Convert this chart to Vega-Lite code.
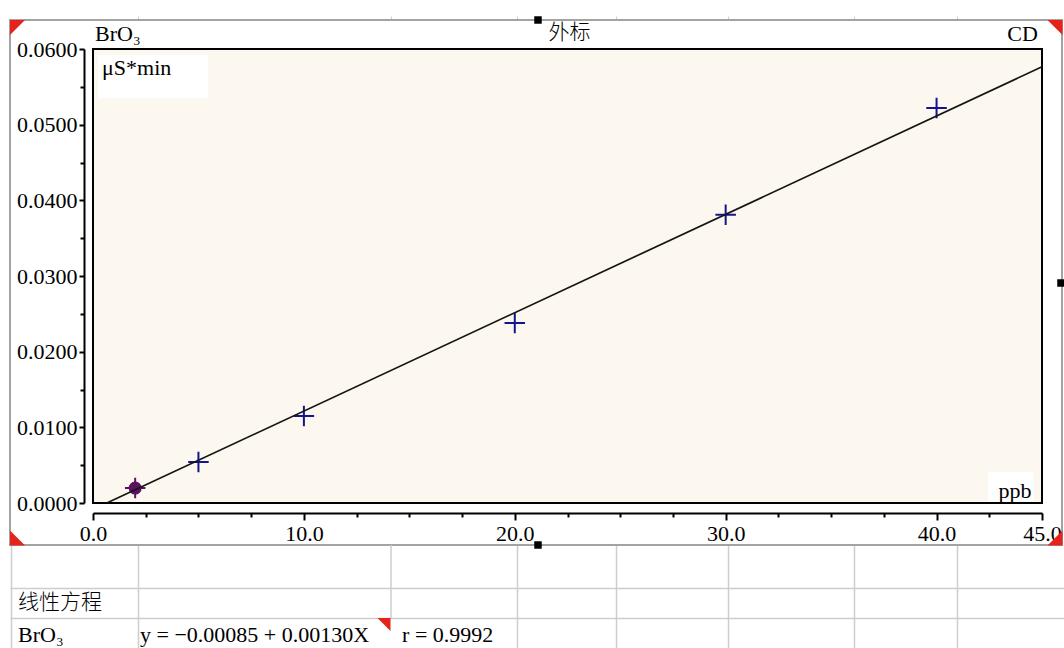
{
  "$schema": "https://vega.github.io/schema/vega-lite/v6.json",
  "width": 1064,
  "height": 648,
  "autosize": {"type": "none"},
  "padding": 0,
  "background": "white",
  "config": {"view": {"stroke": null}},
  "datasets": {
    "standards": [
      {"ppb": 2, "area": 0.00198, "status": "selected"},
      {"ppb": 5, "area": 0.00542, "status": "standard"},
      {"ppb": 10, "area": 0.0115, "status": "standard"},
      {"ppb": 20, "area": 0.0238, "status": "standard"},
      {"ppb": 30, "area": 0.0381, "status": "standard"},
      {"ppb": 40, "area": 0.0522, "status": "standard"}
    ],
    "fit": [
      {"ppb": 0.654, "area": 0},
      {"ppb": 45, "area": 0.05765}
    ],
    "handles": [
      {"sx": 7.5, "sy": 7.5, "kind": "tl"},
      {"sx": 1045, "sy": 7.5, "kind": "tr"},
      {"sx": 7.5, "sy": 518, "kind": "bl"},
      {"sx": 1045, "sy": 518, "kind": "br"},
      {"sx": 528, "sy": 0, "kind": "sq"},
      {"sx": 528, "sy": 525, "kind": "sq"},
      {"sx": 1051, "sy": 263, "kind": "sq"}
    ]
  },
  "resolve": {"scale": {"x": "independent", "y": "independent"}, "axis": {"x": "independent", "y": "independent"}},
  "layer": [
    {
      "layer": [
        {
          "data": {"values": [{}]},
          "mark": {"type": "rect", "fillOpacity": 0, "stroke": "#a3a3a3", "strokeWidth": 2},
          "encoding": {
            "x": {"datum": 0, "type": "quantitative", "scale": {"domain": [0, 1054], "range": [10, 1064], "nice": false, "zero": false}},
            "x2": {"datum": 1052},
            "y": {"datum": 0, "type": "quantitative", "scale": {"domain": [0, 628], "range": [20, 648], "nice": false, "zero": false}, "axis": null},
            "y2": {"datum": 525}
          }
        },
        {
          "data": {"name": "handles"},
          "transform": [{"filter": "datum.kind !== 'sq'"}],
          "mark": {"type": "point", "filled": true, "opacity": 1, "strokeWidth": 0, "size": 225, "color": "#e3231c"},
          "encoding": {
            "x": {"field": "sx", "type": "quantitative",
              "scale": {"domain": [0, 1054], "range": [10, 1064], "nice": false, "zero": false},
              "axis": {"orient": "top", "offset": -20, "title": null, "labels": false, "grid": false, "domain": false,
                "values": [128, 381, 507, 606, 718, 844, 947], "ticks": true, "tickSize": 4, "tickColor": "#cfcfcf", "tickWidth": 1}},
            "y": {"field": "sy", "type": "quantitative",
              "scale": {"domain": [0, 628], "range": [20, 648], "nice": false, "zero": false},
              "axis": null},
            "shape": {"field": "kind", "type": "nominal",
              "scale": {"domain": ["tl", "tr", "bl", "br"],
                "range": ["M-1,-1L1,-1L-1,1Z", "M-1,-1L1,-1L1,1Z", "M-1,-1L-1,1L1,1Z", "M1,-1L1,1L-1,1Z"]},
              "legend": null}
          }
        },
        {
          "data": {"name": "handles"},
          "transform": [{"filter": "datum.kind === 'sq'"}],
          "mark": {"type": "point", "shape": "square", "filled": true, "opacity": 1, "strokeWidth": 0, "size": 56, "color": "#000000"},
          "encoding": {
            "x": {"field": "sx", "type": "quantitative"},
            "y": {"field": "sy", "type": "quantitative", "axis": null}
          }
        }
      ]
    },
    {
      "layer": [
        {
          "data": {"values": [{"c": 0, "r": 0}]},
          "mark": {"type": "text", "text": ""},
          "encoding": {
            "x": {"field": "c", "type": "quantitative",
              "scale": {"domain": [0, 1054], "range": [10, 1064], "nice": false, "zero": false},
              "axis": {"orient": "top", "title": null, "labels": false, "ticks": false, "domain": false, "grid": true,
                "values": [1, 128, 507, 606, 718, 844, 947], "gridColor": "#cdcdcd", "gridWidth": 1.5}},
            "y": {"field": "r", "type": "quantitative",
              "scale": {"domain": [0, 103], "range": [545, 648], "nice": false, "zero": false},
              "axis": {"orient": "left", "title": null, "labels": false, "ticks": false, "domain": false, "grid": true,
                "values": [43, 73], "gridColor": "#cdcdcd", "gridWidth": 1.5}}
          }
        },
        {
          "data": {"values": [{}]},
          "mark": {"type": "rule", "color": "#cdcdcd", "strokeWidth": 1.5},
          "encoding": {
            "x": {"datum": 381, "type": "quantitative"},
            "y": {"datum": 0, "type": "quantitative"}, "y2": {"datum": 73}
          }
        },
        {
          "data": {"values": [{}]},
          "mark": {"type": "point", "shape": "M-1,-1L1,-1L1,1Z", "size": 169, "filled": true, "color": "#e3231c", "opacity": 1, "strokeWidth": 0},
          "encoding": {
            "x": {"datum": 374, "type": "quantitative"},
            "y": {"datum": 79.5, "type": "quantitative"}
          }
        },
        {
          "data": {"values": [{"t": "线性方程"}]},
          "mark": {"type": "text", "align": "left", "baseline": "middle", "font": "Noto Sans CJK SC", "fontWeight": 300, "fontSize": 21, "color": "#000"},
          "encoding": {
            "x": {"datum": 8, "type": "quantitative"},
            "y": {"datum": 58, "type": "quantitative"},
            "text": {"field": "t"}
          }
        },
        {
          "data": {"values": [{"t": "BrO₃"}]},
          "mark": {"type": "text", "align": "left", "baseline": "middle", "font": "Liberation Serif", "fontSize": 22, "color": "#000"},
          "encoding": {
            "x": {"datum": 8, "type": "quantitative"},
            "y": {"datum": 90, "type": "quantitative"},
            "text": {"field": "t"}
          }
        },
        {
          "data": {"values": [{"t": "y = −0.00085 + 0.00130X\u00a0\u00a0\u00a0\u00a0\u00a0\u00a0r = 0.9992"}]},
          "mark": {"type": "text", "align": "left", "baseline": "middle", "font": "Liberation Serif", "fontSize": 22, "color": "#000"},
          "encoding": {
            "x": {"datum": 130, "type": "quantitative"},
            "y": {"datum": 90, "type": "quantitative"},
            "text": {"field": "t"}
          }
        }
      ]
    },
    {
      "layer": [
        {
          "data": {"values": [{}]},
          "mark": {"type": "rect", "fill": "#fdf8ef", "stroke": "#000", "strokeWidth": 2},
          "encoding": {
            "x": {"datum": 0, "type": "quantitative", "scale": {"domain": [0, 45], "range": [93, 1042], "nice": false, "zero": false}},
            "x2": {"datum": 45},
            "y": {"datum": 0, "type": "quantitative", "scale": {"domain": [0, 0.06], "range": [503, 49], "nice": false, "zero": false}},
            "y2": {"datum": 0.06}
          }
        },
        {
          "data": {"values": [{}]},
          "mark": {"type": "rect", "color": "white"},
          "encoding": {
            "x": {"datum": 0.24, "type": "quantitative"}, "x2": {"datum": 5.45},
            "y": {"datum": 0.0592, "type": "quantitative"}, "y2": {"datum": 0.0535}
          }
        },
        {
          "data": {"values": [{}]},
          "mark": {"type": "rect", "color": "white"},
          "encoding": {
            "x": {"datum": 42.45, "type": "quantitative"}, "x2": {"datum": 44.6},
            "y": {"datum": 0.0041, "type": "quantitative"}, "y2": {"datum": 0.0002}
          }
        },
        {
          "data": {"values": [{"t": "μS*min"}]},
          "mark": {"type": "text", "align": "left", "baseline": "middle", "font": "Liberation Serif", "fontSize": 22, "color": "#000"},
          "encoding": {
            "x": {"datum": 0.43, "type": "quantitative"},
            "y": {"datum": 0.0575, "type": "quantitative"},
            "text": {"field": "t"}
          }
        },
        {
          "data": {"values": [{"t": "ppb"}]},
          "mark": {"type": "text", "align": "right", "baseline": "middle", "font": "Liberation Serif", "fontSize": 22, "color": "#000"},
          "encoding": {
            "x": {"datum": 44.5, "type": "quantitative"},
            "y": {"datum": 0.0016, "type": "quantitative"},
            "text": {"field": "t"}
          }
        },
        {
          "data": {"values": [{"t": "BrO₃"}]},
          "mark": {"type": "text", "align": "left", "baseline": "middle", "font": "Liberation Serif", "fontSize": 22, "color": "#000"},
          "encoding": {
            "x": {"datum": 0.1, "type": "quantitative"},
            "y": {"datum": 0.0620, "type": "quantitative"},
            "text": {"field": "t"}
          }
        },
        {
          "data": {"values": [{"t": "外标"}]},
          "mark": {"type": "text", "align": "center", "baseline": "middle", "font": "Noto Sans CJK SC", "fontWeight": 300, "fontSize": 21, "color": "#000"},
          "encoding": {
            "x": {"datum": 22.6, "type": "quantitative"},
            "y": {"datum": 0.0621, "type": "quantitative"},
            "text": {"field": "t"}
          }
        },
        {
          "data": {"values": [{"t": "CD"}]},
          "mark": {"type": "text", "align": "right", "baseline": "middle", "font": "Liberation Serif", "fontSize": 22, "color": "#000"},
          "encoding": {
            "x": {"datum": 44.8, "type": "quantitative"},
            "y": {"datum": 0.0620, "type": "quantitative"},
            "text": {"field": "t"}
          }
        },
        {
          "data": {"name": "standards"},
          "mark": {"type": "point", "shape": "M-1,0L1,0M0,-1L0,1", "size": 420, "strokeWidth": 2, "filled": false, "opacity": 1},
          "encoding": {
            "x": {"field": "ppb", "type": "quantitative",
              "scale": {"domain": [0, 45], "range": [93, 1042], "nice": false, "zero": false},
              "axis": {"orient": "bottom", "offset": -135, "title": null, "grid": false,
                "values": [0, 2.5, 5, 7.5, 10, 12.5, 15, 17.5, 20, 22.5, 25, 27.5, 30, 32.5, 35, 37.5, 40, 42.5, 45],
                "labelExpr": "datum.value % 10 === 0 || datum.value === 45 ? format(datum.value, '.1f') : ''",
                "labelOverlap": false, "labelFlush": false, "labelBound": false,
                "labelFont": "Liberation Serif", "labelFontSize": 22, "labelColor": "#000", "labelPadding": 3,
                "domainColor": "#000", "domainWidth": 2, "tickColor": "#000", "tickWidth": 2,
                "tickSize": {"condition": {"test": "datum.value % 10 === 0 || datum.value === 45", "value": 7}, "value": 4}}},
            "y": {"field": "area", "type": "quantitative",
              "scale": {"domain": [0, 0.06], "range": [503, 49], "nice": false, "zero": false},
              "axis": {"orient": "left", "offset": -84, "title": null, "grid": false,
                "values": [0, 0.0025, 0.005, 0.0075, 0.01, 0.0125, 0.015, 0.0175, 0.02, 0.0225, 0.025, 0.0275, 0.03, 0.0325, 0.035, 0.0375, 0.04, 0.0425, 0.045, 0.0475, 0.05, 0.0525, 0.055, 0.0575, 0.06],
                "labelExpr": "round(datum.value * 10000) % 100 === 0 ? format(datum.value, '.4f') : ''",
                "labelOverlap": false, "labelFlush": false, "labelBound": false,
                "labelFont": "Liberation Serif", "labelFontSize": 22, "labelColor": "#000", "labelPadding": 2,
                "domainColor": "#000", "domainWidth": 2, "tickColor": "#000", "tickWidth": 2,
                "tickSize": {"condition": {"test": "round(datum.value * 10000) % 100 === 0", "value": 5}, "value": 4}}},
            "color": {"field": "status", "type": "nominal", "scale": {"domain": ["standard", "selected"], "range": ["#14148f", "#5a1260"]}, "legend": null}
          }
        },
        {
          "data": {"name": "standards"},
          "transform": [{"filter": "datum.status === 'selected'"}],
          "mark": {"type": "circle", "size": 170, "color": "#5a1260", "opacity": 1},
          "encoding": {
            "x": {"field": "ppb", "type": "quantitative"},
            "y": {"field": "area", "type": "quantitative"}
          }
        },
        {
          "data": {"name": "fit"},
          "mark": {"type": "line", "color": "#151515", "strokeWidth": 1.7},
          "encoding": {
            "x": {"field": "ppb", "type": "quantitative"},
            "y": {"field": "area", "type": "quantitative"}
          }
        }
      ]
    }
  ]
}
